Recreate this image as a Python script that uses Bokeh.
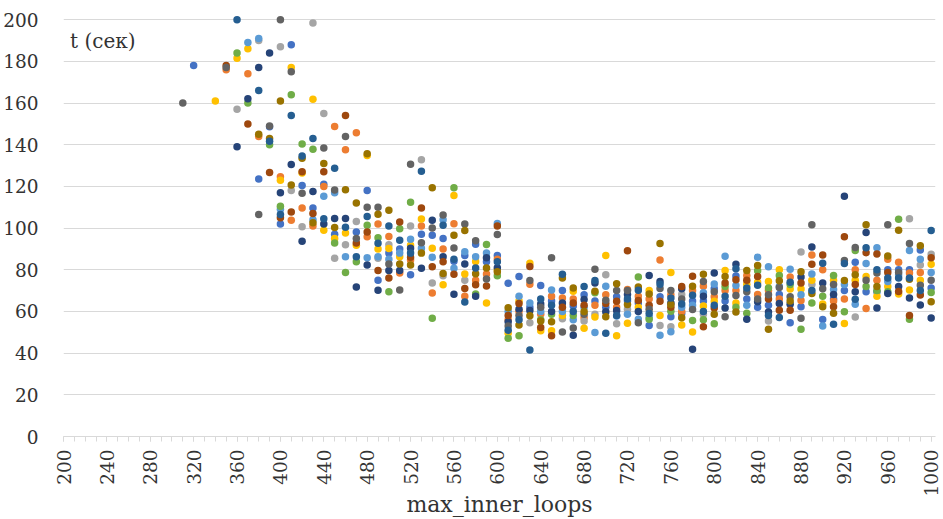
import numpy as np
from bokeh.plotting import figure
from bokeh.models import Range1d, FixedTicker, Label
from bokeh.embed import file_html
from bokeh.resources import INLINE

# x positions: max_inner_loops = 310 .. 1000 step 10
x_values = list(range(310, 1001, 10))
N = None

t_blue = [N, 178, N, N, N, N, N, 123.5, 148.6, 102,
          188, 120.4, 109.6, 121, 97.1, N, 98.1, 118, 75, 88,
          90, 77.6, 97.1, 96.6, 95, 84.1, 86.8, 92.3, 83.8, 86.8,
          73.5, 76.8, 62, 72.5, 65, 70, 62.6, 68, 65, 62,
          67, 65, 64, 53.3, 67, 57.5, 59, 65, 65, 71,
          65, 77, 66, 62, 63, 68.1, 54.6, 62.2, N, 56.1,
          66, 70, 83.6, 69.4, 69.4, 80, 80, 80, 89.5, 71.3]
t_orange = [N, N, N, N, 176, N, 174, 144, N, 124.6,
            103.7, 109.6, 101, 120, 148.8, 137.6, 145.8, 95.8, 102, 96,
            78.4, 84.7, 101, 68.8, 90, 102.1, 67.3, 75, 78, 85,
            56, 60, 73, 58.6, 67.3, 66.5, 66, 57, 63, 68,
            62, 70.5, 67.3, 66, 84.7, 68, 60, 70, 72.1, 67,
            70, 70, 77.3, 68.1, 70, 66, 76.5, 65.3, 87.1, 80,
            65, 66, 80, 61.4, 75, 85, 83.6, 78.4, 78.7, N]
t_gray = [N, N, N, N, N, 157, N, 190, N, 187,
          118, 100.6, 198.4, 155, 85.5, 92, 103.2, N, 85.5, 92,
          N, 101, 132.8, 73.6, 77.1, N, 75, N, N, N,
          N, N, 54.6, N, N, 56.5, N, 55.4, 58.6, 77.6,
          54.1, 61, N, N, 53.3, 52.6, 68.1, N, 58.6, N,
          N, N, N, N, 55.4, N, N, 88.5, 72.9, N,
          N, N, 57.3, N, N, N, N, 104.5, 82.3, 87.4]
t_gold = [N, N, N, 161, N, 181.5, 186, N, N, 123,
          177, 126.4, 161.8, 99, 95, 97.7, 91.8, 134.8, 90, 90.2,
          86.3, 91.8, 104.3, 90.3, 72.8, 115.6, 78, 84, 64, 80,
          49.6, 65, 83.1, 50.7, 50.7, 58, 69.7, 51.9, 57.3, 86.8,
          48.3, 54.3, 62, 70, 58.1, 78.7, 53.5, 50.2, 62.6, 64.9,
          79.6, 64.1, 73, 74, 74.4, 80, 70.8, 70.8, 75, 63.6,
          75, 54.2, 75, 76.8, 67.3, 72, 68.4, 70.3, 75, 82.6]
t_lightblue = [N, N, N, N, N, N, 189, 191, N, 109,
               N, N, 104, 115.3, 117, 86.3, N, 85.8, 86.3, 85,
               88, 94.6, 90.3, 86, 104, 80.7, 88.7, 86.3, 88, 102.2,
               60, 67.3, 64.1, 60, 70.3, 60, 56, 62, 49.9, 72.1,
               57.8, 58.6, 56.2, 57.3, 48.6, 50.3, 62, 63, 69, 73.2,
               86.5, 72.4, 63, 86, 81.4, 72, 80.3, 68, 78, 53,
               70.5, 72.9, 63.4, 83, 90.6, 74.4, 77.5, 89.2, 85, 78.7]
t_green = [N, N, N, N, N, 184, 160, N, 140, 110.5,
           164, 140.3, 137.8, N, 92.9, 78.7, 83.9, 101.4, 95.4, 69.4,
           99.7, 112.4, N, 56.7, N, 119.3, N, 68.4, 92.1, 77.1,
           47.2, 48.3, N, 56, 58.6, N, 58, N, 69, N,
           N, N, 76.5, 56.2, N, 60.1, N, 55.7, 56, 54.1,
           72, 62, 59.1, 79.5, 71.3, 77.3, 72.9, 51.5, 64.1, 67.3,
           77.3, 59.9, 89.2, 72, 70, 69.4, 104.2, 56.2, N, 69.1]
t_navy = [N, N, N, N, N, 139, 162, 177, 184, 117,
          130.5, 93.7, 117.5, 102, 104.6, 104.6, 71.7, 82.3, 70.2, 79.7,
          79.7, 90.3, 80.7, 103.7, 86.3, 68.2, 82.8, 67.3, 85.8, 81,
          55, 61, 60.4, 63.6, 60, 64.1, 48.6, 65.7, 73.6, 59.8,
          60.4, 68.1, 60, 77.3, 74.4, 64, 70.9, 41.9, 67.3, 78.4,
          61.7, 82.7, 56.3, 64.6, 59.7, 63.8, 63.4, 76.5, 90.9, 73.6,
          68.1, 115.3, 69.4, 97.9, 61.7, 68.6, 72, 66.5, 63.1, 56.9]
t_brown = [N, N, N, N, 178, N, 150, N, 126.7, 105,
           107.7, 127, 107, 127, N, 154, 92.9, 98.1, 79.7, 76,
           102.9, 86, 109.6, 81.5, 83.8, 77.9, 71, 72.8, 72.2, 101,
           58.1, 63.8, 81.6, 52.3, 48.3, 62, 64, 63, N, 63.8,
           64.9, 89.1, 65.2, 63, 64.9, 62, 72, 76.9, 52.6, 61.7,
           73.6, 75.2, 75, 76.8, 66, 60.6, 60.6, 73.6, 82.7, 87.1,
           62.2, 95.8, 72.9, 88.2, 87.6, 78.7, 69.6, 58.1, 67.9, 85.8]
t_darkgray = [160, N, N, N, 177, N, N, 106.5, 149, 200,
              175, 116.7, N, 138.4, 118.3, 143.9, 95, 110, 110, 82.8,
              70.3, 130.6, 93, 100, 106.3, 90.4, 101.9, 93.9, 75.6, 96.9,
              53, 58, 74.9, 62, 85.8, 50.2, 52, 58.6, 80.3, 65.4,
              70, 70, 54.6, 61, 71, 70, 66, 60.9, 74.4, 69.4,
              57.5, 67.6, 69.4, 66, 68, 71.5, 67, 56.7, 101.6, 70.9,
              72.9, 84.4, 90.7, 75, 78.4, 101.6, 78.7, 92.6, 72.6, 75]
t_olive = [N, N, N, N, N, N, N, 145, 143, 161,
           120.7, 133.5, 102.6, 131, 100.3, 118.4, 112, 135.7, 106.6, 108.5,
           82.8, 82.3, 88, 119.4, 78.2, 96.6, 98.9, 78.1, 80.8, 79,
           61.8, 53.5, 57.9, 55.4, 55, 76, 71.3, 60, 69.7, 57.5,
           73.3, 63.3, 71.7, 68.4, 92.6, 63.3, 57, 72.1, 77.9, 58.6,
           76.8, 59.7, 79.6, 82.1, 51.5, 74.7, 65, 79, 68.6, 62.2,
           59.1, 74.9, 77.6, 101.6, 72, 86.6, 99, 75.5, 91.5, 64.6]
t_midblue = [N, N, N, N, N, 200, N, 166, 141.7, 106.5,
             154, 134.6, 143, 104.5, 128.7, 100.4, 86.3, 105.6, 92.7, 101,
             94.2, 88, 127.3, N, 101.3, 85, 64.5, 80.8, N, 83.8,
             51, 56, 41.5, 66, 63, 77.9, 60, 72, 74.8, 49.6,
             58, 66, 70.2, 59, 73, 66.5, 63.6, 67.8, 60, 63,
             67.3, 80.5, 71.3, 72.6, 58, 57.1, 74, N, 70, 83.1,
             53.8, 83, 65.8, 90.6, 80, 76, 76, 76, 70, 98.9]

x_ticks = list(range(200, 1001, 40))
x_minor = list(range(200, 1001, 10))
y_ticks = list(range(0, 201, 20))

series = [
    (t_blue, "#4472C4"), (t_orange, "#ED7D31"), (t_gray, "#A5A5A5"),
    (t_gold, "#FFC000"), (t_lightblue, "#5B9BD5"), (t_green, "#70AD47"),
    (t_navy, "#264478"), (t_brown, "#9E480E"), (t_darkgray, "#636363"),
    (t_olive, "#997300"), (t_midblue, "#255E91"),
]

FONT = "DejaVu Serif"
TXT = "#333333"
GRID = "#d9d9d9"

p = figure(width=943, height=519, output_backend="svg", toolbar_location=None,
           x_range=Range1d(200, 1004), y_range=Range1d(0, 202),
           min_border_left=63, min_border_right=8, min_border_top=15,
           min_border_bottom=79)
p.outline_line_color = None
p.background_fill_color = "white"
p.border_fill_color = "white"

for ys, col in series:
    xs = [x for x, y in zip(x_values, ys) if y is not None]
    yy = [y for y in ys if y is not None]
    p.scatter(xs, yy, marker="circle", size=7.5, fill_color=col, line_color=None)

xa = p.xaxis[0]
xa.ticker = FixedTicker(ticks=x_ticks, minor_ticks=x_minor)
xa.major_label_orientation = np.pi / 2
xa.axis_line_color = GRID
xa.major_tick_line_color = GRID
xa.minor_tick_line_color = GRID
xa.major_tick_in = 0
xa.minor_tick_in = 0
xa.major_tick_out = 5
xa.minor_tick_out = 5
xa.major_label_standoff = 8
xa.major_label_text_font = FONT
xa.major_label_text_font_size = "18.5px"
xa.major_label_text_color = TXT
xa.axis_label = "max_inner_loops"
xa.axis_label_text_font = FONT
xa.axis_label_text_font_size = "22px"
xa.axis_label_text_font_style = "normal"
xa.axis_label_text_color = TXT
xa.axis_label_standoff = -8

ya = p.yaxis[0]
ya.ticker = FixedTicker(ticks=y_ticks)
ya.axis_line_color = None
ya.major_tick_line_color = None
ya.minor_tick_line_color = None
ya.major_label_standoff = 19
ya.major_label_text_font = FONT
ya.major_label_text_font_size = "18.5px"
ya.major_label_text_color = TXT

p.xgrid.grid_line_color = None
p.ygrid.grid_line_color = GRID
p.ygrid.ticker = FixedTicker(ticks=y_ticks)

p.add_layout(Label(x=206, y=184, text="t (сек)", text_font=FONT,
                   text_font_size="20px", text_color=TXT))

open("out.html", "w").write(file_html(p, INLINE))
